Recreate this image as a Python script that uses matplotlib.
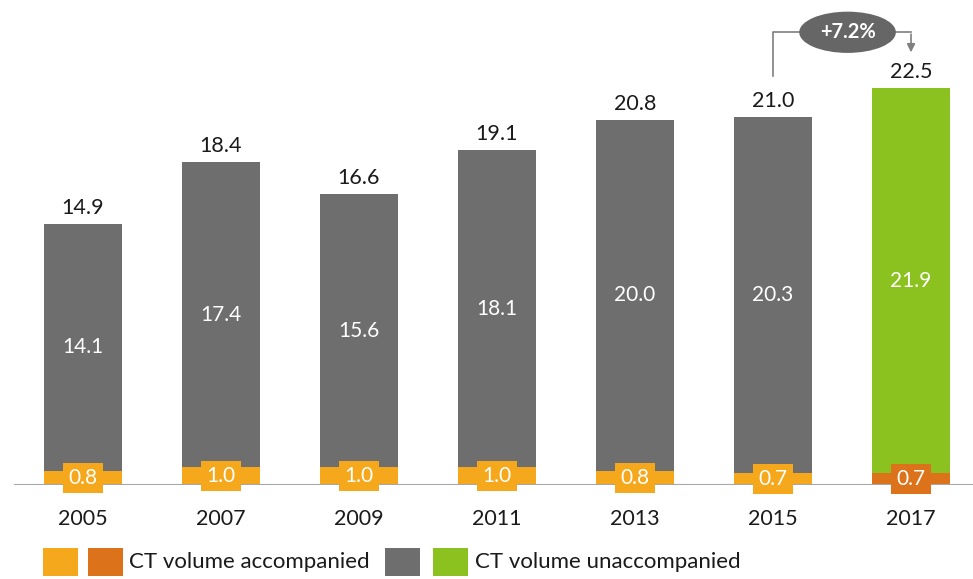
import matplotlib
matplotlib.use("Agg")
import matplotlib.pyplot as plt
from matplotlib.patches import Rectangle, Ellipse

plt.rcParams['font.family'] = ['Lato', 'DejaVu Sans']

# CT volume (million tonnes)
years = ['2005', '2007', '2009', '2011', '2013', '2015', '2017']
accompanied = [0.8, 1.0, 1.0, 1.0, 0.8, 0.7, 0.7]
unaccompanied = [14.1, 17.4, 15.6, 18.1, 20.0, 20.3, 21.9]
totals = [14.9, 18.4, 16.6, 19.1, 20.8, 21.0, 22.5]
growth_label = '+7.2%'

GRAY = '#6e6e6e'
GREEN = '#8cc21f'
ORANGE = '#f6a81c'
DARK_ORANGE = '#dc721a'

W, H = 973, 579
fig = plt.figure(figsize=(W / 100, H / 100), dpi=100)
ax = fig.add_axes([0, 94 / H, 1, 485 / H])
ax.set_xlim(-0.601, 6.449)
ax.set_ylim(0, 27.64)
ax.axis('off')

x = list(range(len(years)))
last = len(years) - 1
acc_colors = [ORANGE] * last + [DARK_ORANGE]
unacc_colors = [GRAY] * last + [GREEN]

ax.bar(x, accompanied, width=0.565, color=acc_colors, zorder=2)
ax.bar(x, unaccompanied, width=0.565, bottom=accompanied, color=unacc_colors, zorder=2)
ax.plot([-0.49, 6.45], [0, 0], color='#a6a6a6', lw=1.5, zorder=3)

for i in x:
    top = accompanied[i] + unaccompanied[i]
    ax.annotate(f'{totals[i]:.1f}', (i, top), xytext=(0, 11.5), textcoords='offset points',
                ha='center', va='center', fontsize=15.5, color='#1a1a1a')
    ax.text(i, accompanied[i] + unaccompanied[i] / 2, f'{unaccompanied[i]:.1f}',
            ha='center', va='center', fontsize=15, color='white', zorder=4)
    ax.text(i, accompanied[i] / 2, f'{accompanied[i]:.1f}', ha='center', va='center',
            fontsize=15, color='white', zorder=4,
            bbox=dict(boxstyle='square,pad=0.25', fc=acc_colors[i], ec='none'))
    ax.annotate(years[i], (i, 0), xytext=(0, -24.5), textcoords='offset points',
                ha='center', va='center', fontsize=15.5, color='#1a1a1a')

# growth bracket between the last two bars
y_from = accompanied[5] + unaccompanied[5] + 2.3
y_bracket = 25.8
y_to = accompanied[6] + unaccompanied[6] + 1.9
ax.plot([5, 5, 6], [y_from, y_bracket, y_bracket], color='#7f7f7f', lw=1.2, zorder=3)
ax.annotate('', xy=(6, y_to), xytext=(6, y_bracket + 0.05),
            arrowprops=dict(arrowstyle='-|>', color='#7f7f7f', lw=1.2, mutation_scale=12))
ax.add_patch(Ellipse((5.54, y_bracket), 0.70, 2.35, fc='#666666', ec='none', zorder=5))
ax.text(5.54, y_bracket, growth_label, ha='center', va='center', fontsize=14.5,
        fontweight='bold', color='white', zorder=6)

# legend drawn in pixel space
lg = fig.add_axes([0, 0, 1, 1], zorder=-1)
lg.set_xlim(0, W)
lg.set_ylim(H, 0)
lg.axis('off')
for x0, c in [(43, ORANGE), (88, DARK_ORANGE), (385, GRAY), (433, GREEN)]:
    lg.add_patch(Rectangle((x0, 548), 35, 28, fc=c, ec='none'))
lg.text(129, 562, 'CT volume accompanied', ha='left', va='center', fontsize=16, color='#1a1a1a')
lg.text(475, 562, 'CT volume unaccompanied', ha='left', va='center', fontsize=16, color='#1a1a1a')

fig.savefig('out.png', dpi=100)
